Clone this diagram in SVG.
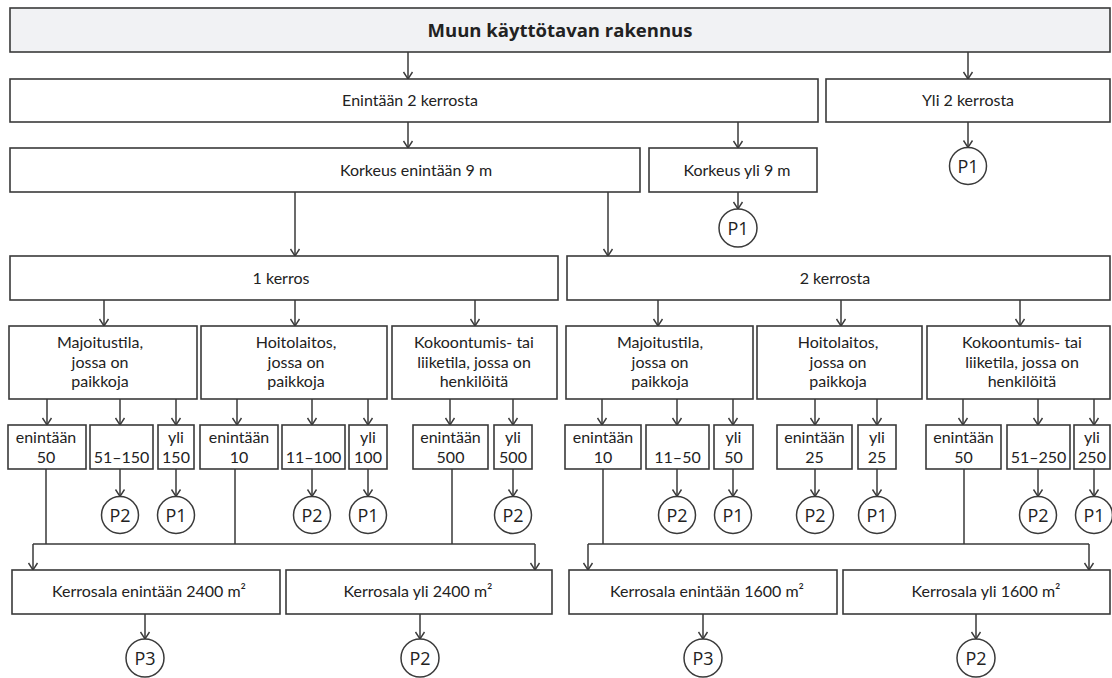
<svg xmlns="http://www.w3.org/2000/svg" width="1112" height="678" viewBox="0 0 1112 678">
<defs>
<style>
.b{fill:#fff;stroke:#3a3a3a;stroke-width:1.6}
.top{fill:#f1f2f4;stroke:#3a3a3a;stroke-width:1.6}
.c{fill:#fff;stroke:#3a3a3a;stroke-width:1.5}
.t{font-family:Lato,"Open Sans",sans-serif;font-size:16px;fill:#222;text-anchor:middle}
.h{font-family:"Open Sans","Noto Sans",sans-serif;font-size:18.5px;font-weight:bold;fill:#222;text-anchor:middle}
.p{font-family:"Open Sans","Noto Sans",sans-serif;font-size:18px;fill:#222;text-anchor:middle}
.l{fill:none;stroke:#3a3a3a;stroke-width:1.5}
.a{fill:none;stroke:#3a3a3a;stroke-width:1.5;marker-end:url(#ah)}
</style>
<marker id="ah" markerUnits="userSpaceOnUse" markerWidth="10" markerHeight="12" viewBox="-8 -6 10 12" refX="0" refY="0" orient="auto">
<path d="M-7,-4.5 L0,0 L-7,4.5" fill="none" stroke="#3a3a3a" stroke-width="1.4"/>
</marker>
</defs>

<g id="connectors">
<path class="a" d="M408,52 V79"/>
<path class="a" d="M968,52 V79"/>
<path class="a" d="M408,122 V148"/>
<path class="a" d="M738,122 V148"/>
<path class="a" d="M968,122 V147.5"/>
<path class="a" d="M738,192 V209"/>
<path class="a" d="M295,192 V256"/>
<path class="a" d="M608,192 V256"/>
<path class="a" d="M104,300 V326"/>
<path class="a" d="M295,300 V326"/>
<path class="a" d="M475,300 V326"/>
<path class="a" d="M658,300 V326"/>
<path class="a" d="M841,300 V326"/>
<path class="a" d="M1020,300 V326"/>
<path class="a" d="M47,399 V425"/>
<path class="a" d="M120,399 V425"/>
<path class="a" d="M176,399 V425"/>
<path class="a" d="M237,399 V425"/>
<path class="a" d="M312,399 V425"/>
<path class="a" d="M368,399 V425"/>
<path class="a" d="M450,399 V425"/>
<path class="a" d="M513,399 V425"/>
<path class="a" d="M602,399 V425"/>
<path class="a" d="M677,399 V425"/>
<path class="a" d="M733,399 V425"/>
<path class="a" d="M815,399 V425"/>
<path class="a" d="M877,399 V425"/>
<path class="a" d="M963,399 V425"/>
<path class="a" d="M1038,399 V425"/>
<path class="a" d="M1094,399 V425"/>
<path class="a" d="M120,469 V496.5"/>
<path class="a" d="M176,469 V496.5"/>
<path class="a" d="M312,469 V496.5"/>
<path class="a" d="M368,469 V496.5"/>
<path class="a" d="M513,469 V496.5"/>
<path class="a" d="M677,469 V496.5"/>
<path class="a" d="M733,469 V496.5"/>
<path class="a" d="M815,469 V496.5"/>
<path class="a" d="M877,469 V496.5"/>
<path class="a" d="M1038,469 V496.5"/>
<path class="a" d="M1094,469 V496.5"/>
<path class="l" d="M46,469 V544 M235,469 V544 M452,469 V544 M33,544 H535"/>
<path class="a" d="M33,544 V570"/>
<path class="a" d="M535,544 V570"/>
<path class="l" d="M603,469 V544 M964,469 V544 M588,544 H1089"/>
<path class="a" d="M588,544 V570"/>
<path class="a" d="M1089,544 V570"/>
<path class="a" d="M145,614 V639"/>
<path class="a" d="M420,614 V639"/>
<path class="a" d="M703,614 V639"/>
<path class="a" d="M976,614 V639"/>
</g>

<g id="n-top"><rect class="top" x="10" y="8" width="1100" height="44"/><text class="h" x="560" y="37">Muun käyttötavan rakennus</text></g>

<g id="n-max2"><rect class="b" x="10" y="79" width="808" height="43"/><text class="t" x="410" y="106">Enintään 2 kerrosta</text></g>
<g id="n-over2"><rect class="b" x="826" y="79" width="284" height="43"/><text class="t" x="968" y="106">Yli 2 kerrosta</text></g>
<g id="n-over2-p1"><circle class="c" cx="968" cy="166" r="18.5"/><text class="p" x="968" y="172.5">P1</text></g>

<g id="n-h9"><rect class="b" x="10" y="148" width="630" height="44"/><text class="t" x="416" y="175.5">Korkeus enintään 9 m</text></g>
<g id="n-hover9"><rect class="b" x="649" y="148" width="168" height="44"/><text class="t" x="737" y="175.5">Korkeus yli 9 m</text></g>
<g id="n-hover9-p1"><circle class="c" cx="738" cy="228" r="19"/><text class="p" x="738" y="234.5">P1</text></g>

<g id="n-1k"><rect class="b" x="10" y="256" width="548" height="44"/><text class="t" x="281" y="283.5">1 kerros</text></g>
<g id="n-2k"><rect class="b" x="567" y="256" width="543" height="44"/><text class="t" x="835" y="283.5">2 kerrosta</text></g>

<g id="n-l-maj"><rect class="b" x="9" y="326" width="188" height="73"/><text class="t" x="100" y="348">Majoitustila,</text><text class="t" x="100" y="367.5">jossa on</text><text class="t" x="100" y="387">paikkoja</text></g>
<g id="n-l-hoi"><rect class="b" x="201" y="326" width="186" height="73"/><text class="t" x="296" y="348">Hoitolaitos,</text><text class="t" x="296" y="367.5">jossa on</text><text class="t" x="296" y="387">paikkoja</text></g>
<g id="n-l-kok"><rect class="b" x="392" y="326" width="165" height="73"/><text class="t" x="474" y="348">Kokoontumis- tai</text><text class="t" x="474" y="367.5">liiketila, jossa on</text><text class="t" x="474" y="387">henkilöitä</text></g>
<g id="n-r-maj"><rect class="b" x="566" y="326" width="187" height="73"/><text class="t" x="660" y="348">Majoitustila,</text><text class="t" x="660" y="367.5">jossa on</text><text class="t" x="660" y="387">paikkoja</text></g>
<g id="n-r-hoi"><rect class="b" x="757" y="326" width="165" height="73"/><text class="t" x="838" y="348">Hoitolaitos,</text><text class="t" x="838" y="367.5">jossa on</text><text class="t" x="838" y="387">paikkoja</text></g>
<g id="n-r-kok"><rect class="b" x="927" y="326" width="183" height="73"/><text class="t" x="1022" y="348">Kokoontumis- tai</text><text class="t" x="1022" y="367.5">liiketila, jossa on</text><text class="t" x="1022" y="387">henkilöitä</text></g>

<g id="n-s1"><rect class="b" x="8" y="425" width="78" height="44"/><text class="t" x="46" y="443">enintään</text><text class="t" x="46" y="462.5">50</text></g>
<g id="n-s2"><rect class="b" x="90" y="425" width="63" height="44"/><text class="t" x="121.5" y="462.5">51–150</text></g>
<g id="n-s3"><rect class="b" x="158" y="425" width="36" height="44"/><text class="t" x="176" y="443">yli</text><text class="t" x="176" y="462.5">150</text></g>
<g id="n-s4"><rect class="b" x="200" y="425" width="78" height="44"/><text class="t" x="239" y="443">enintään</text><text class="t" x="239" y="462.5">10</text></g>
<g id="n-s5"><rect class="b" x="282" y="425" width="63" height="44"/><text class="t" x="313.5" y="462.5">11–100</text></g>
<g id="n-s6"><rect class="b" x="349" y="425" width="38" height="44"/><text class="t" x="368" y="443">yli</text><text class="t" x="368" y="462.5">100</text></g>
<g id="n-s7"><rect class="b" x="413" y="425" width="75" height="44"/><text class="t" x="450.5" y="443">enintään</text><text class="t" x="450.5" y="462.5">500</text></g>
<g id="n-s8"><rect class="b" x="494" y="425" width="38" height="44"/><text class="t" x="513" y="443">yli</text><text class="t" x="513" y="462.5">500</text></g>
<g id="n-s9"><rect class="b" x="565" y="425" width="76" height="44"/><text class="t" x="603" y="443">enintään</text><text class="t" x="603" y="462.5">10</text></g>
<g id="n-s10"><rect class="b" x="646" y="425" width="63" height="44"/><text class="t" x="677.5" y="462.5">11–50</text></g>
<g id="n-s11"><rect class="b" x="714" y="425" width="39" height="44"/><text class="t" x="733.5" y="443">yli</text><text class="t" x="733.5" y="462.5">50</text></g>
<g id="n-s12"><rect class="b" x="777" y="425" width="75" height="44"/><text class="t" x="814.5" y="443">enintään</text><text class="t" x="814.5" y="462.5">25</text></g>
<g id="n-s13"><rect class="b" x="858" y="425" width="38" height="44"/><text class="t" x="877" y="443">yli</text><text class="t" x="877" y="462.5">25</text></g>
<g id="n-s14"><rect class="b" x="926" y="425" width="75" height="44"/><text class="t" x="963.5" y="443">enintään</text><text class="t" x="963.5" y="462.5">50</text></g>
<g id="n-s15"><rect class="b" x="1007" y="425" width="63" height="44"/><text class="t" x="1038.5" y="462.5">51–250</text></g>
<g id="n-s16"><rect class="b" x="1074" y="425" width="36" height="44"/><text class="t" x="1092" y="443">yli</text><text class="t" x="1092" y="462.5">250</text></g>

<g id="n-c1"><circle class="c" cx="120" cy="515" r="18.5"/><text class="p" x="120" y="521.5">P2</text></g>
<g id="n-c2"><circle class="c" cx="176" cy="515" r="18.5"/><text class="p" x="176" y="521.5">P1</text></g>
<g id="n-c3"><circle class="c" cx="312" cy="515" r="18.5"/><text class="p" x="312" y="521.5">P2</text></g>
<g id="n-c4"><circle class="c" cx="368" cy="515" r="18.5"/><text class="p" x="368" y="521.5">P1</text></g>
<g id="n-c5"><circle class="c" cx="513" cy="515" r="18.5"/><text class="p" x="513" y="521.5">P2</text></g>
<g id="n-c6"><circle class="c" cx="677" cy="515" r="18.5"/><text class="p" x="677" y="521.5">P2</text></g>
<g id="n-c7"><circle class="c" cx="733" cy="515" r="18.5"/><text class="p" x="733" y="521.5">P1</text></g>
<g id="n-c8"><circle class="c" cx="815" cy="515" r="18.5"/><text class="p" x="815" y="521.5">P2</text></g>
<g id="n-c9"><circle class="c" cx="877" cy="515" r="18.5"/><text class="p" x="877" y="521.5">P1</text></g>
<g id="n-c10"><circle class="c" cx="1038" cy="515" r="18.5"/><text class="p" x="1038" y="521.5">P2</text></g>
<g id="n-c11"><circle class="c" cx="1094" cy="515" r="18.5"/><text class="p" x="1094" y="521.5">P1</text></g>

<g id="n-a1"><rect class="b" x="12" y="570" width="268" height="44"/><text class="t" x="149" y="597">Kerrosala enintään 2400 m²</text></g>
<g id="n-a2"><rect class="b" x="286" y="570" width="266" height="44"/><text class="t" x="418" y="597">Kerrosala yli 2400 m²</text></g>
<g id="n-a3"><rect class="b" x="569" y="570" width="268" height="44"/><text class="t" x="707" y="597">Kerrosala enintään 1600 m²</text></g>
<g id="n-a4"><rect class="b" x="843" y="570" width="267" height="44"/><text class="t" x="986" y="597">Kerrosala yli 1600 m²</text></g>

<g id="n-b1"><circle class="c" cx="145" cy="658" r="19"/><text class="p" x="145" y="664.5">P3</text></g>
<g id="n-b2"><circle class="c" cx="420" cy="658" r="19"/><text class="p" x="420" y="664.5">P2</text></g>
<g id="n-b3"><circle class="c" cx="703" cy="658" r="19"/><text class="p" x="703" y="664.5">P3</text></g>
<g id="n-b4"><circle class="c" cx="976" cy="658" r="19"/><text class="p" x="976" y="664.5">P2</text></g>
</svg>
